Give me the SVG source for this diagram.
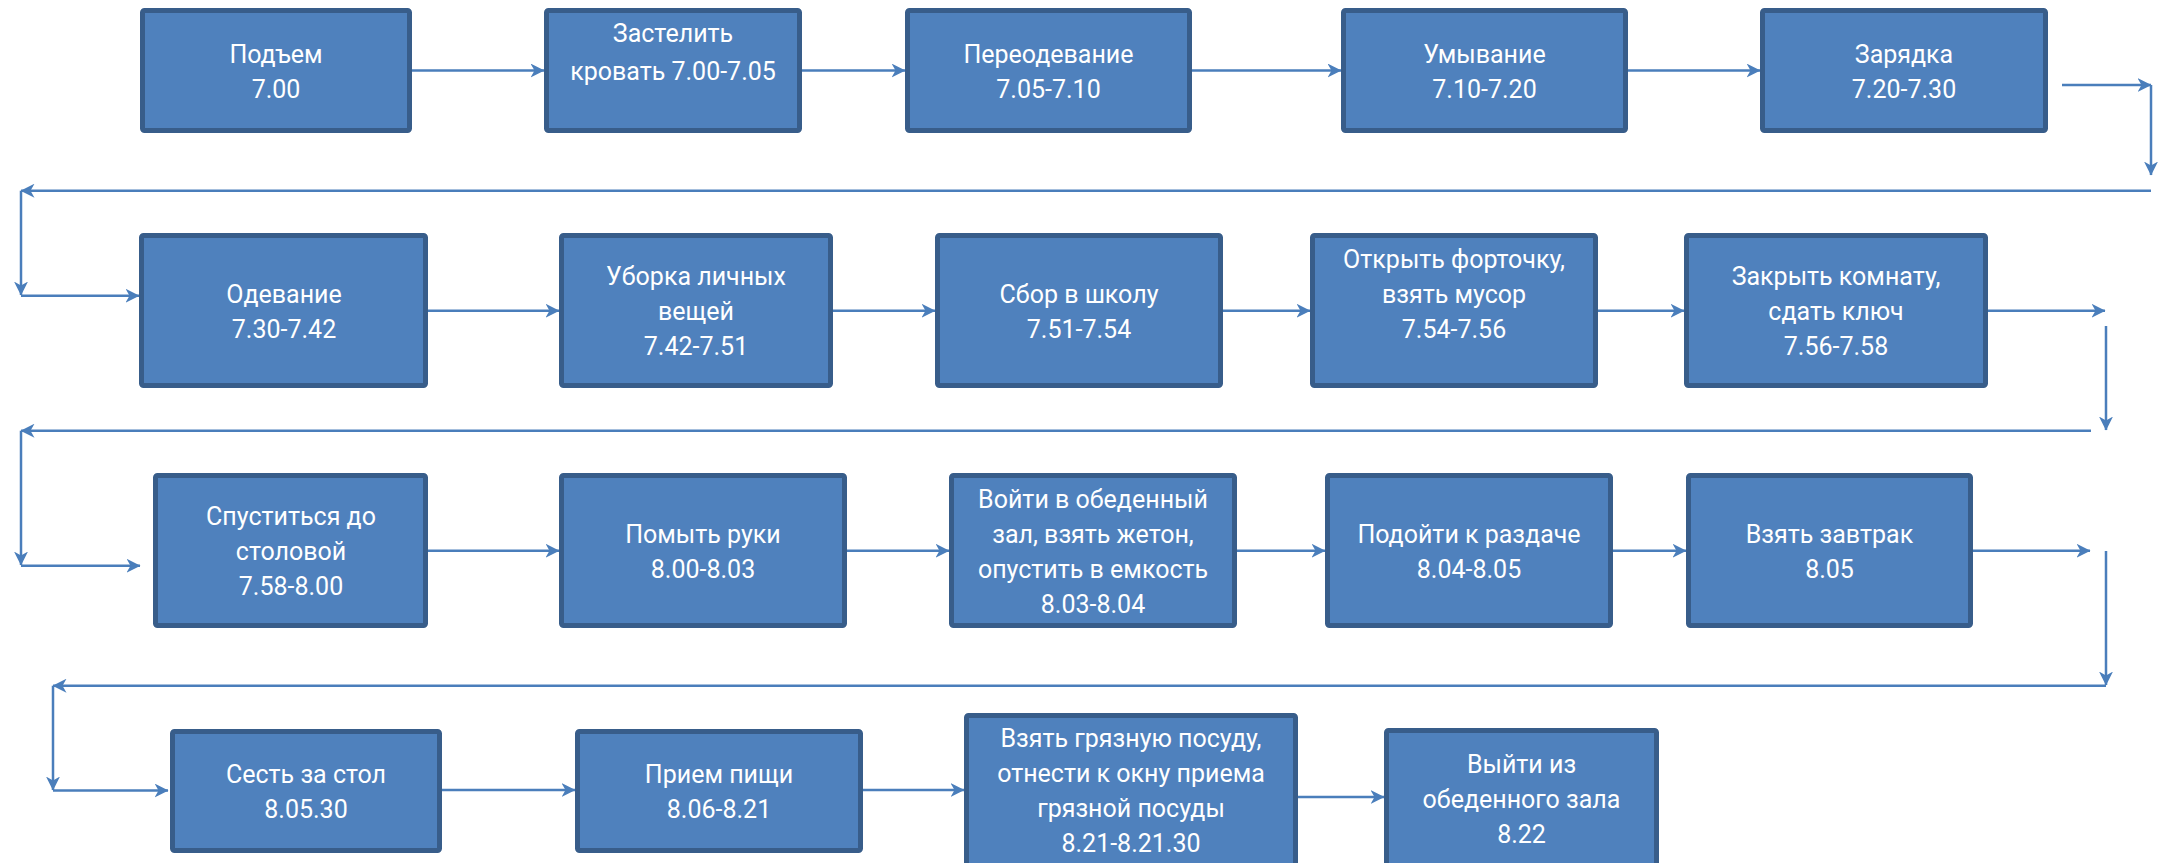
<svg xmlns="http://www.w3.org/2000/svg" width="2167" height="863" viewBox="0 0 2167 863">
<style>
.box{fill:#4F81BD;stroke:#385D8A;stroke-width:5}
.t{font-family:Roboto,"Liberation Sans",sans-serif;font-size:25px;fill:#FFFFFF;text-anchor:middle}
.c{fill:none;stroke:#4A7EBB;stroke-width:2.5;marker-end:url(#ah)}
.l{fill:none;stroke:#4A7EBB;stroke-width:2.5}
</style>
<defs>
<marker id="ah" markerUnits="userSpaceOnUse" viewBox="0 0 14 14" markerWidth="14" markerHeight="14" refX="13.5" refY="7" orient="auto">
<path d="M0,0 L14,7 L0,14 L4,7 Z" fill="#4A7EBB"/>
</marker>
</defs>
<rect width="2167" height="863" fill="#FFFFFF"/>
<g id="connectors">
<path class="c" d="M412,70.5 H544"/>
<path class="c" d="M802,70.5 H905"/>
<path class="c" d="M1192,70.5 H1341"/>
<path class="c" d="M1628,70.5 H1760"/>
<path class="c" d="M2062,85 H2151"/>
<path class="c" d="M2151,85 V175"/>
<path class="c" d="M2151,190.7 H21"/>
<path class="c" d="M21,190.7 V295"/>
<path class="c" d="M21,295.7 H139"/>
<path class="c" d="M428,310.7 H559"/>
<path class="c" d="M833,310.7 H935"/>
<path class="c" d="M1223,310.7 H1310"/>
<path class="c" d="M1598,310.7 H1684"/>
<path class="c" d="M1988,310.7 H2105"/>
<path class="c" d="M2106,326 V430"/>
<path class="c" d="M2091,430.7 H21"/>
<path class="c" d="M21,430.7 V565"/>
<path class="c" d="M21,565.7 H140"/>
<path class="c" d="M428,550.7 H559"/>
<path class="c" d="M847,550.7 H949"/>
<path class="c" d="M1237,550.7 H1325"/>
<path class="c" d="M1613,550.7 H1686"/>
<path class="c" d="M1973,550.7 H2090"/>
<path class="c" d="M2106,551 V685"/>
<path class="c" d="M2106,685.7 H53"/>
<path class="c" d="M53,685.7 V790"/>
<path class="c" d="M53,790.5 H168"/>
<path class="c" d="M442,790 H575"/>
<path class="c" d="M863,790 H964"/>
<path class="c" d="M1298,797 H1384"/>
</g>
<g id="n1"><rect class="box" x="142.5" y="10.5" width="267" height="120" rx="2"/><text class="t" x="276" y="63">Подъем</text><text class="t" x="276" y="98">7.00</text></g>
<g id="n2"><rect class="box" x="546.5" y="10.5" width="253" height="120" rx="2"/><text class="t" x="673" y="42">Застелить</text><text class="t" x="673" y="80">кровать 7.00-7.05</text></g>
<g id="n3"><rect class="box" x="907.5" y="10.5" width="282" height="120" rx="2"/><text class="t" x="1048.5" y="63">Переодевание</text><text class="t" x="1048.5" y="98">7.05-7.10</text></g>
<g id="n4"><rect class="box" x="1343.5" y="10.5" width="282" height="120" rx="2"/><text class="t" x="1484.5" y="63">Умывание</text><text class="t" x="1484.5" y="98">7.10-7.20</text></g>
<g id="n5"><rect class="box" x="1762.5" y="10.5" width="283" height="120" rx="2"/><text class="t" x="1904" y="63">Зарядка</text><text class="t" x="1904" y="98">7.20-7.30</text></g>
<g id="n6"><rect class="box" x="141.5" y="235.5" width="284" height="150" rx="2"/><text class="t" x="284" y="303">Одевание</text><text class="t" x="284" y="338">7.30-7.42</text></g>
<g id="n7"><rect class="box" x="561.5" y="235.5" width="269" height="150" rx="2"/><text class="t" x="696" y="285">Уборка личных</text><text class="t" x="696" y="320">вещей</text><text class="t" x="696" y="355">7.42-7.51</text></g>
<g id="n8"><rect class="box" x="937.5" y="235.5" width="283" height="150" rx="2"/><text class="t" x="1079" y="303">Сбор в школу</text><text class="t" x="1079" y="338">7.51-7.54</text></g>
<g id="n9"><rect class="box" x="1312.5" y="235.5" width="283" height="150" rx="2"/><text class="t" x="1454" y="268">Открыть форточку,</text><text class="t" x="1454" y="303">взять мусор</text><text class="t" x="1454" y="338">7.54-7.56</text></g>
<g id="n10"><rect class="box" x="1686.5" y="235.5" width="299" height="150" rx="2"/><text class="t" x="1836" y="285">Закрыть комнату,</text><text class="t" x="1836" y="320">сдать ключ</text><text class="t" x="1836" y="355">7.56-7.58</text></g>
<g id="n11"><rect class="box" x="155.5" y="475.5" width="270" height="150" rx="2"/><text class="t" x="291" y="525">Спуститься до</text><text class="t" x="291" y="560">столовой</text><text class="t" x="291" y="595">7.58-8.00</text></g>
<g id="n12"><rect class="box" x="561.5" y="475.5" width="283" height="150" rx="2"/><text class="t" x="703" y="543">Помыть руки</text><text class="t" x="703" y="578">8.00-8.03</text></g>
<g id="n13"><rect class="box" x="951.5" y="475.5" width="283" height="150" rx="2"/><text class="t" x="1093" y="508">Войти в обеденный</text><text class="t" x="1093" y="543">зал, взять жетон,</text><text class="t" x="1093" y="578">опустить в емкость</text><text class="t" x="1093" y="613">8.03-8.04</text></g>
<g id="n14"><rect class="box" x="1327.5" y="475.5" width="283" height="150" rx="2"/><text class="t" x="1469" y="543">Подойти к раздаче</text><text class="t" x="1469" y="578">8.04-8.05</text></g>
<g id="n15"><rect class="box" x="1688.5" y="475.5" width="282" height="150" rx="2"/><text class="t" x="1829.5" y="543">Взять завтрак</text><text class="t" x="1829.5" y="578">8.05</text></g>
<g id="n16"><rect class="box" x="172.5" y="731.5" width="267" height="119" rx="2"/><text class="t" x="306" y="783">Сесть за стол</text><text class="t" x="306" y="818">8.05.30</text></g>
<g id="n17"><rect class="box" x="577.5" y="731.5" width="283" height="119" rx="2"/><text class="t" x="719" y="783">Прием пищи</text><text class="t" x="719" y="818">8.06-8.21</text></g>
<g id="n18"><rect class="box" x="966.5" y="715.5" width="329" height="170" rx="2"/><text class="t" x="1131" y="747">Взять грязную посуду,</text><text class="t" x="1131" y="782">отнести к окну приема</text><text class="t" x="1131" y="817">грязной посуды</text><text class="t" x="1131" y="852">8.21-8.21.30</text></g>
<g id="n19"><rect class="box" x="1386.5" y="730.5" width="270" height="170" rx="2"/><text class="t" x="1521.5" y="773">Выйти из</text><text class="t" x="1521.5" y="808">обеденного зала</text><text class="t" x="1521.5" y="843">8.22</text></g>
</svg>
